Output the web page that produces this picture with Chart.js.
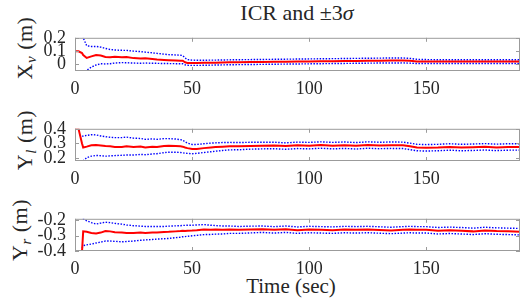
<!DOCTYPE html>
<html>
<head>
<meta charset="utf-8">
<script src="https://cdn.jsdelivr.net/npm/chart.js@4.4.1/dist/chart.umd.min.js"></script>
<style>
  html, body { margin:0; padding:0; background:#fff; }
  #wrap { position:relative; width:523px; height:302px; overflow:hidden; font-family:"Liberation Serif", serif; color:#262626; }
  .cbox { position:absolute; left:0; width:523px; height:90px; }
  .txt { position:absolute; white-space:nowrap; font-family:"Liberation Serif", serif; color:#262626; }
  .ylab { font-size:22px; transform:translate(-50%,-50%) rotate(-90deg); letter-spacing:0.5px; }
  .ylab sub { font-size:15px; vertical-align:-4px; }
</style>
</head>
<body>
<div id="wrap">
  <div class="txt" id="title" style="left:297px; top:13px; transform:translate(-50%,-50%); font-size:22px;">ICR and ±3<i>σ</i></div>
  <div class="txt ylab" style="left:26px; top:48px;">X<sub><i>v</i></sub> (m)</div>
  <div class="txt ylab" style="left:26px; top:140px;">Y<sub><i>l</i></sub> (m)</div>
  <div class="txt ylab" style="left:21px; top:230px;">Y<sub><i>r</i></sub> (m)</div>
  <div class="txt" style="left:291px; top:286px; transform:translate(-50%,-50%); font-size:21px;">Time (sec)</div>
  <div class="cbox" style="top:18px;"><canvas id="c1" width="523" height="90"></canvas></div>
  <div class="cbox" style="top:109px;"><canvas id="c2" width="523" height="90"></canvas></div>
  <div class="cbox" style="top:199px;"><canvas id="c3" width="523" height="90"></canvas></div>
</div>
<script>
// ---- data ----
const t = [0,1.5,3,3.5,5,7,9,11,13,15,17,20,22,25,28,30,33,35,38,40,43,45,46,47,48,50,52,55,58,60,63,66,70,75,80,85,90,95,100,105,110,115,120,125,130,135,140,143,146,150,155,160,165,170,175,180,185,190];

const xvMean = [0.098,0.098,0.085,0.07,0.048,0.06,0.07,0.066,0.056,0.053,0.058,0.054,0.056,0.047,0.044,0.046,0.04,0.036,0.033,0.031,0.029,0.028,0.027,0.016,0.011,0.011,0.011,0.012,0.012,0.013,0.014,0.015,0.016,0.017,0.018,0.019,0.02,0.021,0.022,0.023,0.024,0.025,0.026,0.027,0.028,0.029,0.029,0.027,0.022,0.021,0.021,0.021,0.021,0.021,0.021,0.021,0.021,0.021];
const xvUp = [null,null,0.26,0.2,0.14,0.135,0.135,0.13,0.12,0.112,0.108,0.106,0.105,0.1,0.096,0.092,0.087,0.083,0.077,0.073,0.071,0.069,0.067,0.048,0.036,0.032,0.031,0.031,0.032,0.032,0.033,0.034,0.035,0.036,0.037,0.038,0.039,0.04,0.041,0.042,0.043,0.044,0.045,0.046,0.047,0.048,0.048,0.045,0.038,0.036,0.035,0.035,0.035,0.035,0.035,0.035,0.035,0.035];
const xvLow = [null,null,-0.09,-0.06,-0.045,-0.02,-0.005,0.005,0.003,0.005,0.01,0.013,0.012,0.01,0.008,0.01,0.008,0.008,0.006,0.006,0.005,0.005,0.005,-0.004,-0.007,-0.008,-0.008,-0.007,-0.006,-0.005,-0.004,-0.003,-0.002,-0.001,0.0,0.001,0.002,0.003,0.004,0.005,0.006,0.007,0.008,0.009,0.01,0.01,0.011,0.009,0.006,0.006,0.007,0.007,0.007,0.007,0.007,0.007,0.007,0.007];

const ylMean = [0.4,0.4,0.3,0.272,0.278,0.287,0.29,0.286,0.282,0.28,0.276,0.275,0.28,0.276,0.279,0.272,0.278,0.275,0.283,0.285,0.282,0.28,0.278,0.272,0.268,0.262,0.262,0.268,0.272,0.275,0.278,0.28,0.28,0.283,0.285,0.286,0.282,0.287,0.285,0.289,0.285,0.288,0.284,0.289,0.286,0.288,0.287,0.28,0.272,0.27,0.272,0.276,0.272,0.274,0.277,0.273,0.276,0.276];
const ylUp = [null,null,0.35,0.35,0.355,0.36,0.358,0.351,0.346,0.342,0.34,0.34,0.343,0.336,0.334,0.328,0.331,0.328,0.333,0.333,0.33,0.326,0.322,0.311,0.302,0.293,0.293,0.298,0.302,0.304,0.306,0.307,0.306,0.308,0.308,0.308,0.304,0.309,0.307,0.311,0.307,0.31,0.306,0.311,0.308,0.31,0.309,0.302,0.294,0.292,0.294,0.298,0.294,0.296,0.299,0.295,0.298,0.298];
const ylLow = [null,null,0.16,0.18,0.203,0.213,0.218,0.216,0.213,0.215,0.217,0.219,0.221,0.221,0.225,0.223,0.228,0.23,0.237,0.24,0.24,0.238,0.236,0.233,0.232,0.23,0.232,0.238,0.243,0.247,0.252,0.256,0.257,0.261,0.263,0.264,0.26,0.265,0.263,0.267,0.263,0.266,0.262,0.267,0.264,0.266,0.265,0.258,0.25,0.248,0.25,0.254,0.25,0.252,0.255,0.251,0.254,0.254];

const yrMean = [-0.4,-0.4,-0.4,-0.272,-0.275,-0.282,-0.286,-0.28,-0.27,-0.272,-0.278,-0.28,-0.282,-0.283,-0.28,-0.282,-0.28,-0.28,-0.276,-0.275,-0.272,-0.27,-0.268,-0.27,-0.268,-0.267,-0.265,-0.26,-0.262,-0.26,-0.262,-0.26,-0.262,-0.26,-0.258,-0.262,-0.258,-0.264,-0.26,-0.262,-0.264,-0.26,-0.262,-0.26,-0.263,-0.266,-0.262,-0.26,-0.262,-0.262,-0.268,-0.265,-0.268,-0.272,-0.266,-0.27,-0.272,-0.274];
const yrUp = [null,null,-0.17,-0.19,-0.203,-0.215,-0.224,-0.218,-0.212,-0.215,-0.22,-0.225,-0.23,-0.235,-0.238,-0.24,-0.24,-0.24,-0.24,-0.238,-0.236,-0.235,-0.233,-0.233,-0.232,-0.232,-0.23,-0.228,-0.232,-0.234,-0.237,-0.237,-0.24,-0.238,-0.237,-0.241,-0.237,-0.243,-0.239,-0.241,-0.243,-0.239,-0.241,-0.239,-0.242,-0.245,-0.241,-0.239,-0.241,-0.241,-0.247,-0.244,-0.247,-0.251,-0.245,-0.249,-0.251,-0.253];
const yrLow = [null,null,-0.38,-0.365,-0.36,-0.355,-0.348,-0.342,-0.335,-0.335,-0.337,-0.34,-0.338,-0.335,-0.33,-0.328,-0.325,-0.322,-0.32,-0.318,-0.313,-0.31,-0.307,-0.306,-0.304,-0.301,-0.298,-0.293,-0.292,-0.29,-0.289,-0.285,-0.285,-0.282,-0.279,-0.283,-0.279,-0.285,-0.281,-0.283,-0.285,-0.281,-0.283,-0.281,-0.284,-0.287,-0.283,-0.281,-0.283,-0.283,-0.289,-0.286,-0.289,-0.293,-0.287,-0.291,-0.293,-0.295];

const xTicks = [0, 50, 100, 150];
const xRange = [0, 190];
const xvTicks = [0, 0.1, 0.2];
const ylTicks = [0.2, 0.3, 0.4];
const yrTicks = [-0.4, -0.3, -0.2];
const xvRange = [-0.05, 0.2];
const ylRange = [0.18, 0.4];
const yrRange = [-0.4, -0.19];

// ---- styling / drawing ----
const FONT = { family: "'Liberation Serif', serif", size: 18 };
const TEXT = '#262626';
const AXIS = '#9b9b9b';

const boxPlugin = {
  id: 'matlabBox',
  afterDatasetsDraw(chart) {
    const { ctx, chartArea: a, scales } = chart;
    const L = 4;
    ctx.save();
    ctx.strokeStyle = AXIS;
    ctx.lineWidth = 1;
    ctx.beginPath();
    scales.x.ticks.forEach(tk => {
      const px = Math.round(scales.x.getPixelForValue(tk.value)) + 0.5;
      ctx.moveTo(px, a.bottom); ctx.lineTo(px, a.bottom - L);
      ctx.moveTo(px, a.top); ctx.lineTo(px, a.top + L);
    });
    scales.y.ticks.forEach(tk => {
      const py = Math.round(scales.y.getPixelForValue(tk.value)) + 0.5;
      ctx.moveTo(a.left, py); ctx.lineTo(a.left + L, py);
      ctx.moveTo(a.right, py); ctx.lineTo(a.right - L, py);
    });
    ctx.stroke();
    ctx.strokeRect(a.left + 0.5, a.top + 0.5, a.right - a.left - 1, a.bottom - a.top - 1);
    ctx.restore();
  }
};

function pts(arr) { return t.map((x, i) => ({ x: x, y: arr[i] })); }

function makeChart(id, mean, up, low, yr, yTicks, plotH) {
  const canvasH = 90, padTop = 10;
  new Chart(document.getElementById(id), {
    type: 'line',
    data: {
      datasets: [
        { data: pts(mean), borderColor: '#ff0000', borderWidth: 2, pointRadius: 0, order: 0 },
        { data: pts(up), borderColor: '#0000ff', borderWidth: 1.4, borderDash: [1.5, 1.5], pointRadius: 0, order: 1 },
        { data: pts(low), borderColor: '#0000ff', borderWidth: 1.4, borderDash: [1.5, 1.5], pointRadius: 0, order: 1 }
      ]
    },
    options: {
      responsive: false,
      animation: false,
      devicePixelRatio: 1,
      layout: { padding: { top: padTop, right: 3, left: 0, bottom: 0 } },
      plugins: { legend: { display: false }, tooltip: { enabled: false }, title: { display: false } },
      elements: { line: { tension: 0 } },
      scales: {
        x: {
          type: 'linear', min: xRange[0], max: xRange[1],
          grid: { display: false, drawTicks: false },
          border: { display: false },
          afterBuildTicks: s => { s.ticks = xTicks.map(v => ({ value: v })); },
          ticks: { autoSkip: false, maxRotation: 0, font: FONT, color: TEXT, padding: 7,
                   callback: v => String(v) },
          afterFit: s => { s.height = canvasH - padTop - plotH; }
        },
        y: {
          min: yr[0], max: yr[1],
          grid: { display: false, drawTicks: false },
          border: { display: false },
          afterBuildTicks: s => { s.ticks = yTicks.map(v => ({ value: v })); },
          ticks: { autoSkip: false, font: FONT, color: TEXT, padding: 9,
                   callback: v => String(Math.round(v * 10) / 10) },
          afterFit: s => { s.width = 75; }
        }
      }
    },
    plugins: [boxPlugin]
  });
}

makeChart('c1', xvMean, xvUp, xvLow, xvRange, xvTicks, 43);
makeChart('c2', ylMean, ylUp, ylLow, ylRange, ylTicks, 42);
makeChart('c3', yrMean, yrUp, yrLow, yrRange, yrTicks, 42);
</script>
</body>
</html>
